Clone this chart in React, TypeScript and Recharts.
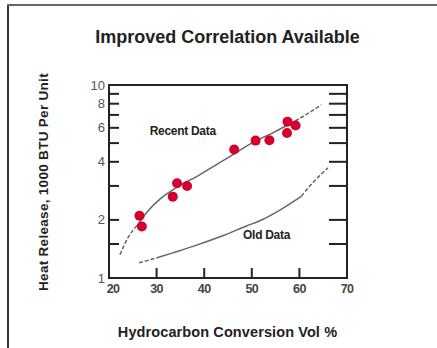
import React from 'react';
import {
  ComposedChart,
  Line,
  Scatter,
  XAxis,
  YAxis,
  ReferenceArea,
  ReferenceDot,
} from 'recharts';

// measured data (red dots)
const recentX = [26.4, 26.9, 33.4, 34.3, 36.4, 46.3, 50.8, 53.7, 57.5, 57.4, 59.2];
const recentY = [2.1, 1.85, 2.64, 3.1, 3.0, 4.63, 5.15, 5.17, 6.46, 5.64, 6.17];

// correlation curve through recent data
const fitStartX = [22.3, 24, 26];
const fitStartY = [1.32, 1.62, 1.88];
const fitMidX = [26, 28, 31, 33, 36, 38, 42.6, 45, 50, 55, 58];
const fitMidY = [1.88, 2.2, 2.6, 2.82, 3.13, 3.31, 3.87, 4.2, 5.0, 5.75, 6.3];
const fitEndX = [58, 60, 64.6];
const fitEndY = [6.3, 6.7, 7.9];

// old correlation curve
const oldStartX = [26.3, 30];
const oldStartY = [1.2, 1.27];
const oldMidX = [30, 33.4, 38.4, 44, 48.9, 51.7, 55.9, 60.4];
const oldMidY = [1.27, 1.35, 1.48, 1.66, 1.86, 1.98, 2.25, 2.65];
const oldEndX = [60.4, 62.2, 66];
const oldEndY = [2.65, 3.0, 3.72];

const xTicks = [20, 30, 40, 50, 60, 70];
const yTicks = [1, 1.5, 2, 3, 4, 5, 6, 7, 8, 9, 10];
const yLabeled = [1, 2, 4, 6, 8, 10];

const notes = [
  { x: 35.5, y: 5.78, text: 'Recent Data' },
  { x: 53.1, y: 1.675, text: 'Old Data' },
];

const zip = (xs: number[], ys: number[]) => xs.map((x, i) => ({ x, y: ys[i] }));

const W = 437;
const H = 348;
const margin = { top: 85, right: 90, bottom: 40, left: 69 };
const Y_AXIS_W = 40;
const X_AXIS_H = 30;
const PLOT_W = W - margin.left - margin.right - Y_AXIS_W;
const FONT = '"Liberation Sans", Arial, Helvetica, sans-serif';
const INK = '#222';
const LINE = '#666';
const RED = '#d4002e';

// eslint-disable-next-line @typescript-eslint/no-explicit-any
function YTick({ x, y, payload }: any) {
  const v = payload.value;
  const ax = x + 4;
  const edge = v === 1 || v === 10;
  return (
    <g>
      {!edge && <line x1={ax} x2={ax + 10} y1={y} y2={y} stroke={INK} strokeWidth={2} />}
      {!edge && (
        <line x1={ax + PLOT_W - 18} x2={ax + PLOT_W} y1={y} y2={y} stroke={INK} strokeWidth={2} />
      )}
      {yLabeled.includes(v) && (
        <text x={x} y={y} dy="0.35em" textAnchor="end" fontSize={13} fill="#555" fontFamily={FONT}>
          {v}
        </text>
      )}
    </g>
  );
}

// eslint-disable-next-line @typescript-eslint/no-explicit-any
function XTick({ x, y, payload }: any) {
  const v = payload.value;
  const ay = y - 6;
  const edge = v === 20 || v === 70;
  return (
    <g>
      {!edge && <line x1={x} x2={x} y1={ay} y2={ay - 10} stroke={INK} strokeWidth={2} />}
      <text
        x={v === 20 ? x + 4 : x}
        y={y}
        dy="0.75em"
        textAnchor="middle"
        fontSize={12.5}
        fontWeight="bold"
        letterSpacing={-0.6}
        fill="#444"
        fontFamily={FONT}
      >
        {v}
      </text>
    </g>
  );
}

export default function App() {
  const lineProps = {
    dataKey: 'y',
    type: 'monotone' as const,
    stroke: LINE,
    strokeWidth: 1.5,
    dot: false,
    isAnimationActive: false,
  };
  return (
    <div
      style={{
        position: 'absolute',
        left: 0,
        top: 0,
        width: W,
        height: H,
        background: '#fff',
        fontFamily: FONT,
        overflow: 'hidden',
      }}
    >
      <div style={{ position: 'absolute', left: 7, top: 4, width: 2, height: H, background: '#333' }} />
      <div style={{ position: 'absolute', left: 7, top: 4, width: W, height: 1.5, background: '#666' }} />
      <div
        style={{
          position: 'absolute',
          left: 0,
          width: W,
          top: 27,
          textAlign: 'center',
          paddingLeft: 18,
          boxSizing: 'border-box',
          fontSize: 18,
          fontWeight: 'bold',
          color: INK,
        }}
      >
        Improved Correlation Available
      </div>
      <div
        style={{
          position: 'absolute',
          left: 43,
          top: 182,
          transform: 'translate(-50%, -50%) rotate(-90deg)',
          whiteSpace: 'nowrap',
          fontSize: 13.5,
          fontWeight: 'bold',
          color: INK,
          letterSpacing: 0.3,
        }}
      >
        Heat Release, 1000 BTU Per Unit
      </div>
      <div
        style={{
          position: 'absolute',
          left: 0,
          width: W,
          top: 324,
          textAlign: 'center',
          paddingLeft: 18,
          boxSizing: 'border-box',
          fontSize: 14.5,
          fontWeight: 'bold',
          color: INK,
          letterSpacing: 0.1,
        }}
      >
        Hydrocarbon Conversion Vol %
      </div>
      <ComposedChart width={W} height={H} margin={margin} style={{ position: 'absolute', left: 0, top: 0 }}>
        <XAxis
          dataKey="x"
          type="number"
          domain={[20, 70]}
          ticks={xTicks}
          interval={0}
          tickSize={0}
          tickMargin={6}
          tickLine={false}
          height={X_AXIS_H}
          axisLine={{ stroke: INK, strokeWidth: 2 }}
          tick={<XTick />}
          allowDataOverflow
        />
        <YAxis
          type="number"
          scale="log"
          domain={[1, 10]}
          ticks={yTicks}
          interval={0}
          tickSize={0}
          tickMargin={4}
          tickLine={false}
          width={Y_AXIS_W}
          axisLine={{ stroke: INK, strokeWidth: 2 }}
          tick={<YTick />}
          allowDataOverflow
        />
        <ReferenceArea x1={20} x2={70} y1={1} y2={10} fill="none" stroke={INK} strokeWidth={2} />
        <Line {...lineProps} data={zip(fitStartX, fitStartY)} strokeDasharray="4 2" />
        <Line {...lineProps} data={zip(fitMidX, fitMidY)} />
        <Line {...lineProps} data={zip(fitEndX, fitEndY)} strokeDasharray="4 2" />
        <Line {...lineProps} data={zip(oldStartX, oldStartY)} strokeDasharray="4 2" />
        <Line {...lineProps} data={zip(oldMidX, oldMidY)} />
        <Line {...lineProps} data={zip(oldEndX, oldEndY)} strokeDasharray="4 2" />
        <Scatter
          data={zip(recentX, recentY)}
          dataKey="y"
          fill={RED}
          shape={(p: any) => <circle cx={p.cx} cy={p.cy} r={5} fill={RED} />}
          isAnimationActive={false}
        />
        {notes.map((n) => (
          <ReferenceDot
            key={n.text}
            x={n.x}
            y={n.y}
            r={0}
            fill="none"
            stroke="none"
            label={{
              value: n.text,
              position: 'center',
              fontSize: 12,
              fontWeight: 'bold',
              fill: INK,
              fontFamily: FONT,
              letterSpacing: -0.3,
            }}
          />
        ))}
      </ComposedChart>
    </div>
  );
}
